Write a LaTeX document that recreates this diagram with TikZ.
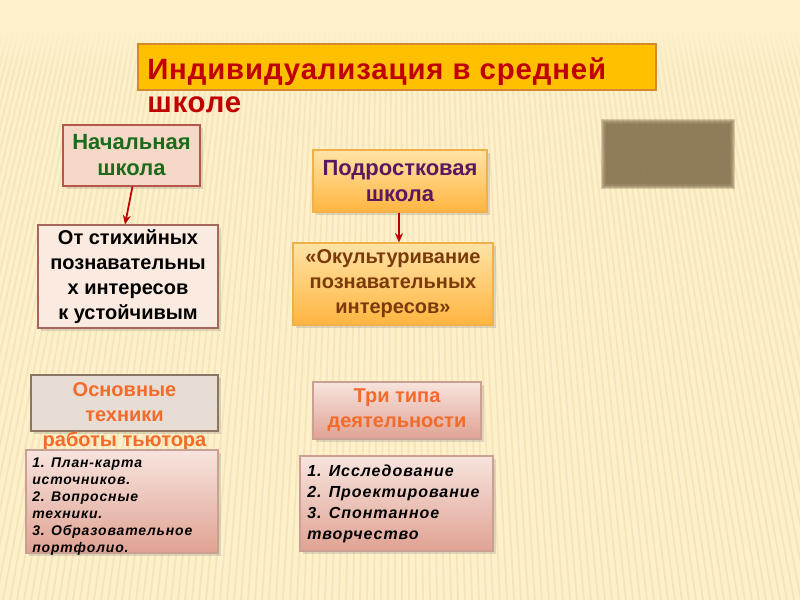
\documentclass[tikz,border=0pt]{standalone}
\usepackage{fontspec}
\setmainfont{Liberation Sans}
\newfontfamily\spacedfont[LetterSpace=6]{Liberation Sans}
\newfontfamily\titlefont[LetterSpace=3]{Liberation Sans}
\usetikzlibrary{arrows.meta,shadows,fadings}
\definecolor{bg}{HTML}{FDF0CA}
\definecolor{stripe}{HTML}{EBD6A0}
\definecolor{titlefill}{HTML}{FFC000}
\definecolor{titledraw}{HTML}{D38A2E}
\definecolor{titletext}{HTML}{C00000}
\definecolor{nachfill}{HTML}{F6D8C6}
\definecolor{nachdraw}{HTML}{B5574B}
\definecolor{nachtext}{HTML}{1D6A1D}
\definecolor{otfill}{HTML}{FBEADF}
\definecolor{otdraw}{HTML}{A5685A}
\definecolor{orgtop}{HTML}{FFE3A6}
\definecolor{orgbot}{HTML}{FFB540}
\definecolor{orgdraw}{HTML}{F2B04A}
\definecolor{podtext}{HTML}{5B1760}
\definecolor{okutext}{HTML}{7A3A0A}
\definecolor{osnfill}{HTML}{E7DDD5}
\definecolor{osndraw}{HTML}{8B7565}
\definecolor{orangetext}{HTML}{F26B2A}
\definecolor{pinktop}{HTML}{F7E4DE}
\definecolor{pinkbot}{HTML}{E0A293}
\definecolor{pinkdraw}{HTML}{C9A092}
\definecolor{arrowred}{HTML}{C00000}
\definecolor{greybox}{HTML}{836F4E}
\tikzset{
  boxbase/.style={rectangle, inner sep=0pt, align=center, line width=0.8pt},
  shade1/.style={drop shadow={opacity=0.25, shadow xshift=2pt, shadow yshift=-2pt}},
  orangebox/.style={boxbase, shade1, draw=orgdraw, top color=orgtop, bottom color=orgbot},
  pinkbox/.style={boxbase, shade1, draw=pinkdraw, top color=pinktop, bottom color=pinkbot},
  arr/.style={draw=arrowred, line width=1.3pt, -{Stealth[length=7pt,width=6pt]}},
  bigtxt/.style={font=\titlefont\bfseries\fontsize{22}{24.75}\selectfont},
  headtxt/.style={font=\bfseries\fontsize{16.5}{19.5}\selectfont},
  midtxt/.style={font=\bfseries\fontsize{15}{18.75}\selectfont},
  listtxt/.style={font=\spacedfont\bfseries\itshape\fontsize{10.5}{12.75}\selectfont, align=left},
  listtxtb/.style={font=\spacedfont\bfseries\itshape\fontsize{12}{15.75}\selectfont, align=left},
}
\begin{document}
\begin{tikzpicture}[x=0.75pt,y=-0.75pt]
\useasboundingbox (0,0) rectangle (800,600);
\fill[bg] (0,0) rectangle (800,600);
\begin{scope}
  \clip (0,30) rectangle (800,600);
  \foreach \s in {-900,-893,...,1700} {
    \draw[stripe, line width=1.4pt, opacity=0.4] (400,-1500) -- (\s,600);
  }
\end{scope}
\fill[bg, path fading=south] (0,29) rectangle (800,80);

% grey blurred rectangle
\foreach \d in {0,1,...,5} {
  \fill[greybox, opacity=0.3] (601+\d,119+\d) rectangle (735-\d,189-\d);
}
\node[rectangle, minimum width=94.5pt, minimum height=46.5pt, inner sep=0pt] (grey) at (668,154) {};

% title
\node[boxbase, draw=titledraw, fill=titlefill, minimum width=388.5pt, minimum height=34.5pt] (title) at (397,67) {};
\node[bigtxt, text=titletext, anchor=north west, inner sep=0pt, align=left] (titletext) at (147,57) {Индивидуализация в средней\\школе};

% left column
\node[boxbase, shade1, draw=nachdraw, fill=nachfill, minimum width=102.75pt, minimum height=45.75pt, headtxt, text=nachtext] (nach) at (131.5,155.5) {Начальная\\школа};
\node[boxbase, shade1, draw=otdraw, fill=otfill, minimum width=135pt, minimum height=77.25pt, midtxt, text=black] (ot) at (128,276.5) {От стихийных\\познавательны\\х интересов\\к устойчивым};
\draw[arr] ([xshift=0.75pt]nach.south) -- ([xshift=-2.25pt]ot.north);

% right column
\node[orangebox, minimum width=130.5pt, minimum height=46.5pt, headtxt, text=podtext] (pod) at (400,181) {Подростковая\\школа};
\node[orangebox, minimum width=150pt, minimum height=61.5pt, midtxt, text=okutext] (oku) at (393,284) {«Окультуривание\\познавательных\\интересов»};
\draw[arr] ([xshift=-0.75pt]pod.south) -- ([xshift=4.5pt]oku.north);

% lower left
\node[boxbase, shade1, draw=osndraw, fill=osnfill, minimum width=140.25pt, minimum height=42pt] (osn) at (124.5,403) {};
\node[midtxt, text=orangetext, align=center, anchor=north, inner sep=0pt] (osntext) at (124.5,382) {Основные\\техники\\работы тьютора};
\node[pinkbox, minimum width=144pt, minimum height=77.25pt] (list1) at (122,501.5) {};
\node[listtxt, anchor=north west, inner sep=0pt] (list1text) at (32,458) {1. План-карта\\источников.\\2. Вопросные\\техники.\\3. Образовательное\\портфолио.};

% lower right
\node[pinkbox, minimum width=126pt, minimum height=42.75pt, midtxt, text=orangetext] (tri) at (397,410.5) {Три типа\\деятельности};
\node[pinkbox, minimum width=144.75pt, minimum height=71.25pt] (list2) at (396.5,503.5) {};
\node[listtxtb, anchor=north west, inner sep=0pt] (list2text) at (307,465) {1. Исследование\\2. Проектирование\\3. Спонтанное\\творчество};
\end{tikzpicture}
\end{document}
